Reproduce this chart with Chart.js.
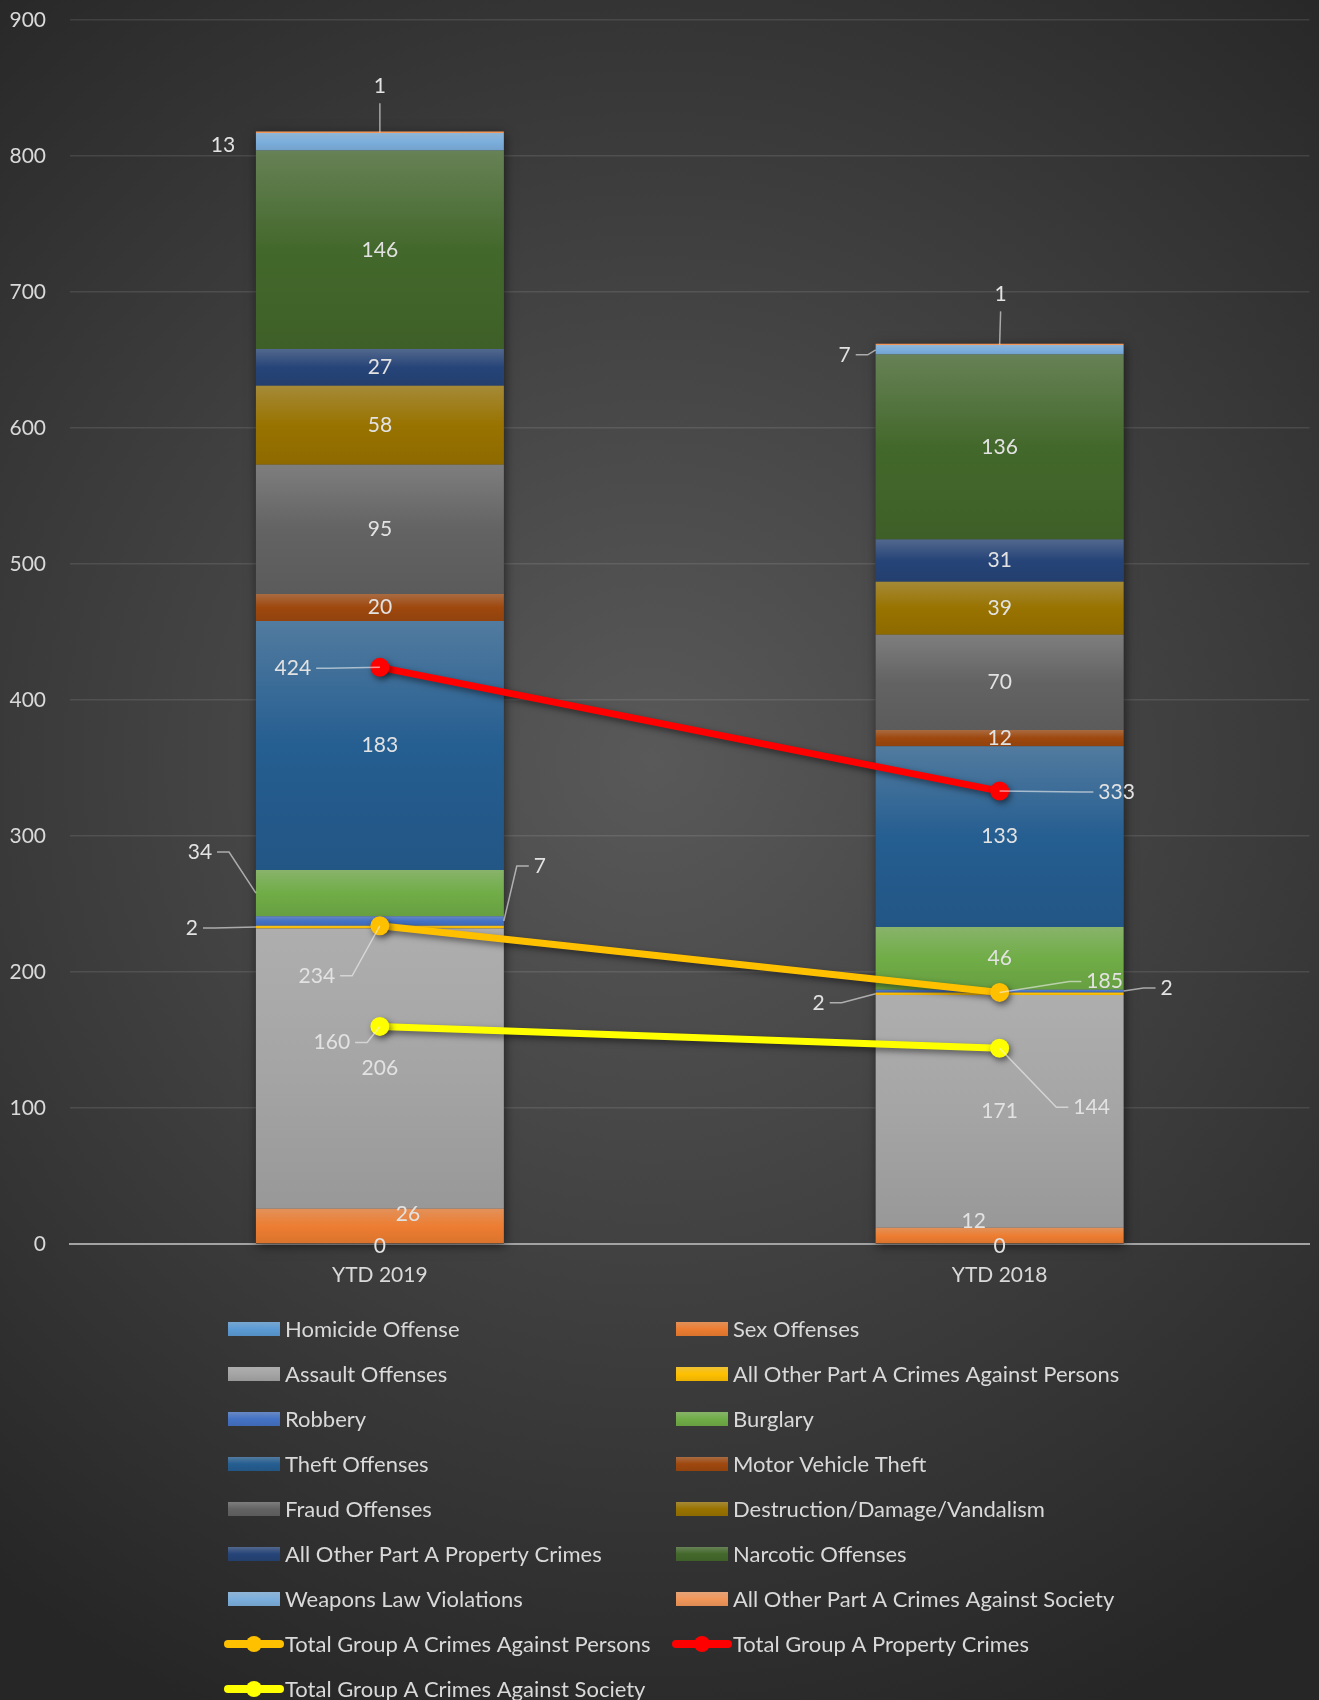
<!DOCTYPE html>
<html>
<head>
<meta charset="utf-8">
<script src="https://cdn.jsdelivr.net/npm/chart.js@4.4.1/dist/chart.umd.min.js"></script>
<style>
  html, body { margin: 0; padding: 0; background: #2b2b2b; }
  #wrap { width: 1319px; height: 1700px; }
</style>
</head>
<body>
<div id="wrap"><canvas id="crimeChart" width="1319" height="1700"></canvas></div>
<script>
// ---- data ----
const periods = ['YTD 2019', 'YTD 2018'];

const homicide = [0, 0];
const sexOffenses = [26, 12];
const assault = [206, 171];
const otherPersons = [2, 2];
const robbery = [7, 2];
const burglary = [34, 46];
const theft = [183, 133];
const motorVehicleTheft = [20, 12];
const fraud = [95, 70];
const vandalism = [58, 39];
const otherProperty = [27, 31];
const narcotic = [146, 136];
const weapons = [13, 7];
const otherSociety = [1, 1];

const totalPersons = [234, 185];
const totalProperty = [424, 333];
const totalSociety = [160, 144];

const yMin = 0, yMax = 900, yStep = 100;

const barNames = [
  'Homicide Offense', 'Sex Offenses', 'Assault Offenses', 'All Other Part A Crimes Against Persons',
  'Robbery', 'Burglary', 'Theft Offenses', 'Motor Vehicle Theft', 'Fraud Offenses',
  'Destruction/Damage/Vandalism', 'All Other Part A Property Crimes', 'Narcotic Offenses',
  'Weapons Law Violations', 'All Other Part A Crimes Against Society'
];
const barValues = [
  homicide, sexOffenses, assault, otherPersons, robbery, burglary, theft,
  motorVehicleTheft, fraud, vandalism, otherProperty, narcotic, weapons, otherSociety
];
const lineNames = [
  'Total Group A Crimes Against Persons', 'Total Group A Property Crimes', 'Total Group A Crimes Against Society'
];
const lineValues = [totalPersons, totalProperty, totalSociety];

// ---- styling ----
const barColors = [
  '#5B9BD5', '#ED7D31', '#A5A5A5', '#FFC000', '#4472C4', '#70AD47', '#255E91',
  '#9E480E', '#636363', '#997300', '#264478', '#43682B', '#7CAFDD', '#F1975A'
];
const lineColors = ['#FFC000', '#FF0000', '#FFFF00'];
const textColor = '#d9d9d9';
const fontFamily = 'Lato, "Open Sans", sans-serif';

// where the value labels sit (offsets from the segment / point), null = centred
const labelSpots = [
  [{ dx: 0, dy: 2 }, { dx: 0, dy: 2 }],
  [{ dx: 28, dy: -12 }, { dx: -26, dy: -14 }],
  [null, null],
  [{ dx: -188, dy: 1, edge: -1, leader: 'h' }, { dx: -181, dy: 9, edge: -1, leader: 'h' }],
  [{ dx: 160, dy: -55, edge: 1, leader: 'h' }, { dx: 167, dy: -3, edge: 1, leader: 'h' }],
  [{ dx: -180, dy: -41, edge: -1, leader: 'h' }, null],
  [null, null],
  [null, null],
  [null, null],
  [null, null],
  [null, null],
  [null, null],
  [{ dx: -157, dy: 4 }, { dx: -155, dy: 5, edge: -1, leader: 'h' }],
  [{ dx: 0, dy: -46, leader: 'v' }, { dx: 1, dy: -50, leader: 'v' }],
  [{ dx: -63, dy: 50, leader: 'h' }, { dx: 105, dy: -11, leader: 'h' }],
  [{ dx: -87, dy: 1, leader: 'h' }, { dx: 117, dy: 1, leader: 'h' }],
  [{ dx: -48, dy: 16, leader: 'h' }, { dx: 92, dy: 59, leader: 'h' }]
];

function mix(hex, other, amt) {
  const a = parseInt(hex.slice(1), 16), b = parseInt(other.slice(1), 16);
  const ch = (v, s) => (v >> s) & 255;
  const r = Math.round(ch(a, 16) * (1 - amt) + ch(b, 16) * amt);
  const g = Math.round(ch(a, 8) * (1 - amt) + ch(b, 8) * amt);
  const bl = Math.round(ch(a, 0) * (1 - amt) + ch(b, 0) * amt);
  return 'rgb(' + r + ',' + g + ',' + bl + ')';
}

function fillGradient(ctx2d, base, top, bot) {
  const g = ctx2d.createLinearGradient(0, top, 0, bot);
  g.addColorStop(0, mix(base, '#c4c4c4', 0.28));
  g.addColorStop(0.5, base);
  g.addColorStop(1, mix(base, '#000000', 0.08));
  return g;
}

function barFill(c) {
  const base = barColors[c.datasetIndex];
  const chart = c.chart;
  if (c.type !== 'data' || !chart.chartArea || !chart.scales.y) return base;
  let start = 0;
  for (let k = 0; k < c.datasetIndex; k++) start += barValues[k][c.dataIndex];
  const end = start + barValues[c.datasetIndex][c.dataIndex];
  const top = chart.scales.y.getPixelForValue(end);
  const bot = chart.scales.y.getPixelForValue(start);
  if (bot - top < 2) return base;
  return fillGradient(chart.ctx, base, top, bot);
}

const datasets = [];
barNames.forEach((name, i) => {
  datasets.push({
    type: 'bar',
    label: name,
    data: barValues[i],
    backgroundColor: barFill,
    borderWidth: 0,
    stack: 'crimes',
    categoryPercentage: 1,
    barPercentage: 0.4
  });
});
lineNames.forEach((name, i) => {
  datasets.push({
    type: 'line',
    label: name,
    data: lineValues[i],
    borderColor: lineColors[i],
    backgroundColor: lineColors[i],
    pointBackgroundColor: lineColors[i],
    pointBorderWidth: 0,
    pointRadius: 9.5,
    borderWidth: 7,
    tension: 0,
    stack: 'total' + i,
    order: -1
  });
});

// ---- plugins ----
const background = {
  id: 'background',
  beforeDraw(chart) {
    const { ctx, width, height } = chart;
    const g = ctx.createRadialGradient(650, 760, 0, 650, 760, 1050);
    g.addColorStop(0, '#595959');
    g.addColorStop(1, '#262626');
    ctx.save();
    ctx.fillStyle = g;
    ctx.fillRect(0, 0, width, height);
    ctx.restore();
  }
};

const shadows = {
  id: 'shadows',
  beforeDatasetsDraw(chart) {
    const ctx = chart.ctx;
    const y = chart.scales.y;
    const meta = chart.getDatasetMeta(0);
    ctx.save();
    ctx.shadowColor = 'rgba(0,0,0,0.55)';
    ctx.shadowBlur = 10;
    ctx.shadowOffsetX = 1;
    ctx.shadowOffsetY = 2;
    ctx.fillStyle = '#444';
    periods.forEach((p, j) => {
      let total = 0;
      barValues.forEach(v => { total += v[j]; });
      const el = meta.data[j];
      const top = y.getPixelForValue(total), bot = y.getPixelForValue(0);
      ctx.fillRect(el.x - el.width / 2, top, el.width, bot - top);
    });
    ctx.restore();
  },
  beforeDatasetDraw(chart, args) {
    if (chart.data.datasets[args.index].type !== 'line') return;
    const ctx = chart.ctx;
    ctx.save();
    ctx.shadowColor = 'rgba(0,0,0,0.5)';
    ctx.shadowBlur = 6;
    ctx.shadowOffsetX = 2;
    ctx.shadowOffsetY = 3;
  },
  afterDatasetDraw(chart, args) {
    if (chart.data.datasets[args.index].type !== 'line') return;
    chart.ctx.restore();
  }
};

const valueLabels = {
  id: 'valueLabels',
  afterDatasetsDraw(chart) {
    const ctx = chart.ctx;
    ctx.save();
    ctx.font = '21px ' + fontFamily;
    ctx.textAlign = 'center';
    ctx.textBaseline = 'middle';
    chart.data.datasets.forEach((ds, i) => {
      const meta = chart.getDatasetMeta(i);
      meta.data.forEach((el, j) => {
        const isBar = ds.type === 'bar';
        const cx = el.x;
        const cy = isBar ? (el.y + el.base) / 2 : el.y;
        const spot = labelSpots[i][j] || { dx: 0, dy: 0 };
        const lx = cx + spot.dx, ly = cy + spot.dy;
        const text = String(ds.data[j]);
        if (spot.leader) {
          const ax = isBar && spot.edge ? cx + spot.edge * el.width / 2 : cx;
          const ay = cy;
          ctx.strokeStyle = 'rgba(242,242,242,0.6)';
          ctx.lineWidth = 1.5;
          ctx.beginPath();
          if (spot.leader === 'v') {
            ctx.moveTo(lx, ly + 17);
            ctx.lineTo(ax, ay);
          } else {
            const w = ctx.measureText(text).width / 2 + 5;
            const dir = ax > lx ? 1 : -1;
            const sx = lx + dir * w;
            ctx.moveTo(sx, ly);
            ctx.lineTo(sx + dir * 12, ly);
            ctx.lineTo(ax, ay);
          }
          ctx.stroke();
        }
        ctx.fillStyle = '#e2e2e2';
        ctx.fillText(text, lx, ly);
      });
    });
    ctx.restore();
  }
};

const gridLegend = {
  id: 'gridLegend',
  afterDraw(chart) {
    const ctx = chart.ctx;
    const colX = [228, 676];
    ctx.save();
    ctx.font = '22px ' + fontFamily;
    ctx.textBaseline = 'middle';
    ctx.textAlign = 'left';
    chart.data.datasets.forEach((ds, i) => {
      const x = colX[i % 2];
      const y = 1329 + Math.floor(i / 2) * 45;
      if (ds.type === 'bar') {
        ctx.fillStyle = fillGradient(ctx, barColors[i], y - 7, y + 7);
        ctx.fillRect(x, y - 7, 52, 14);
      } else {
        ctx.strokeStyle = ds.borderColor;
        ctx.lineWidth = 8;
        ctx.lineCap = 'round';
        ctx.beginPath();
        ctx.moveTo(x, y);
        ctx.lineTo(x + 52, y);
        ctx.stroke();
        ctx.fillStyle = ds.borderColor;
        ctx.beginPath();
        ctx.arc(x + 26, y, 8, 0, Math.PI * 2);
        ctx.fill();
      }
      ctx.fillStyle = textColor;
      ctx.fillText(ds.label, x + 57, y + 1);
    });
    ctx.restore();
  }
};

// ---- chart ----
new Chart(document.getElementById('crimeChart').getContext('2d'), {
  data: { labels: periods, datasets },
  options: {
    responsive: false,
    animation: false,
    layout: { padding: { top: 20, right: 0, bottom: 400, left: 0 } },
    plugins: {
      legend: { display: false },
      tooltip: { enabled: false }
    },
    scales: {
      x: {
        stacked: true,
        grid: { display: false, drawTicks: false },
        border: { display: true, color: '#a3a3a3', width: 2 },
        ticks: { color: textColor, font: { family: fontFamily, size: 21 }, padding: 19 },
        afterFit(scale) { scale.height = 56; }
      },
      y: {
        stacked: true,
        min: yMin,
        max: yMax,
        ticks: { stepSize: yStep, color: textColor, font: { family: fontFamily, size: 21 }, padding: 24 },
        grid: { color: 'rgba(255,255,255,0.1)', lineWidth: 1.5, drawTicks: false },
        border: { display: false },
        afterFit(scale) {
          scale.width = 70;
          scale.paddingTop = 0;
          scale.paddingBottom = 0;
        }
      }
    }
  },
  plugins: [background, shadows, valueLabels, gridLegend]
});
</script>
</body>
</html>
